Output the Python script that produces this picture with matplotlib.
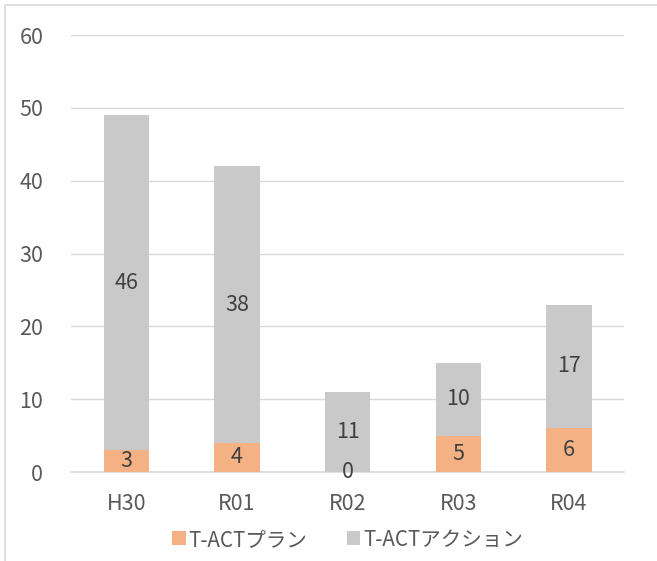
import matplotlib.pyplot as plt
import matplotlib.patches as mpatches
import numpy as np

plt.rcParams['font.family'] = ['Noto Sans CJK JP', 'DejaVu Sans']

categories = ['H30', 'R01', 'R02', 'R03', 'R04']
plan = [3, 4, 0, 5, 6]
action = [46, 38, 11, 10, 17]
series_names = ['T-ACTプラン', 'T-ACTアクション']

text_color = '#595959'
plan_color = '#F4B183'
action_color = '#C9C9C9'

fig = plt.figure(figsize=(6.57, 5.61), dpi=100)
ax = fig.add_axes([0.108, 0.1586, 0.842, 0.779])

x = np.arange(len(categories))
width = 0.41
ax.bar(x, plan, width, color=plan_color, label=series_names[0], zorder=3)
ax.bar(x, action, width, bottom=plan, color=action_color, label=series_names[1], zorder=3)

# data labels centred in each segment
for i in range(len(categories)):
    ax.text(x[i], plan[i] / 2, str(plan[i]), ha='center', va='center',
            fontsize=15.5, color='#404040', zorder=4)
    ax.text(x[i], plan[i] + action[i] / 2, str(action[i]), ha='center', va='center',
            fontsize=15.5, color='#404040', zorder=4)

ax.set_xlim(-0.5, len(categories) - 0.5)
ax.set_ylim(0, 60)
ax.set_yticks(range(0, 61, 10))
ax.set_xticks(x)
ax.set_xticklabels(categories)
ax.tick_params(axis='both', length=0, labelsize=15.5, colors=text_color)
ax.tick_params(axis='x', pad=15)
ax.tick_params(axis='y', pad=20)

ax.grid(axis='y', color='#D9D9D9', linewidth=1, zorder=0)
for s in ['top', 'right', 'left']:
    ax.spines[s].set_visible(False)
ax.spines['bottom'].set_color('#D9D9D9')
ax.spines['bottom'].set_linewidth(1.2)

ax.legend(loc='upper center', bbox_to_anchor=(0.5, -0.087), ncol=2, frameon=False,
          fontsize=14.8, labelcolor=text_color, handlelength=0.65, handleheight=0.65,
          handletextpad=0.15, columnspacing=1.9)

# outer chart border
fig.patches.append(mpatches.Rectangle((5 / 657, -0.1), 1.2, 1 - 5 / 561 + 0.1,
                                      transform=fig.transFigure, fill=False,
                                      edgecolor='#D9D9D9', linewidth=1.2))

fig.savefig('out.png', dpi=100)
